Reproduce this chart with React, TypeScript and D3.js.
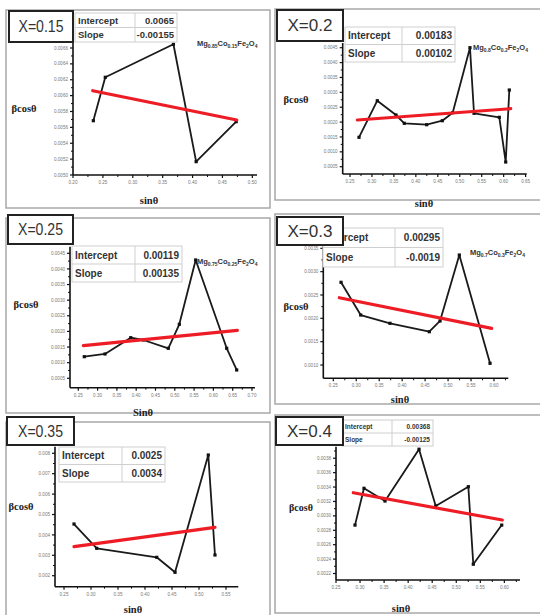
import React from 'react';
import * as d3 from 'd3';

// ---------- data ----------
const panelLabels = ['X=0.15', 'X=0.2', 'X=0.25', 'X=0.3', 'X=0.35', 'X=0.4'];
const interceptText = ['0.0065', '0.00183', '0.00119', '0.00295', '0.0025', '0.00368'];
const slopeText = ['-0.00155', '0.00102', '0.00135', '-0.0019', '0.0034', '-0.00125'];
const formulaParts: (string[] | null)[] = [
  ['Mg', '0.85', 'Co', '0.15', 'Fe', '2', 'O', '4'],
  ['Mg', '0.8', 'Co', '0.2', 'Fe', '2', 'O', '4'],
  ['Mg', '0.75', 'Co', '0.25', 'Fe', '2', 'O', '4'],
  ['Mg', '0.7', 'Co', '0.3', 'Fe', '2', 'O', '4'],
  null,
  null,
];
const xAxisTitles = ['sinθ', 'sinθ', 'Sinθ', 'sinθ', 'sinθ', 'sinθ'];

const sin015 = [0.234, 0.254, 0.368, 0.406, 0.473];
const bcos015 = [0.005684, 0.006231, 0.006647, 0.005168, 0.005672];
const fitX015 = [0.233, 0.474];
const fitY015 = [0.006062, 0.005693];
const xRange015 = [0.2, 0.5078];
const yRange015 = [0.005, 0.006663];
const xTicks015 = [0.2, 0.25, 0.3, 0.35, 0.4, 0.45, 0.5];
const yTicks015 = [0.005, 0.0052, 0.0054, 0.0056, 0.0058, 0.006, 0.0062, 0.0064, 0.0066];

const sin02 = [0.2705, 0.3122, 0.3548, 0.3737, 0.4247, 0.4603, 0.4839, 0.5233, 0.5325, 0.5901, 0.6047, 0.6129];
const bcos02 = [0.001488, 0.002718, 0.002238, 0.001959, 0.001912, 0.002046, 0.002315, 0.0045, 0.002295, 0.002161, 0.000658, 0.003078];
const fitX02 = [0.2666, 0.6161];
const fitY02 = [0.00207, 0.00245];
const xRange02 = [0.2334, 0.6525];
const yRange02 = [0.000255, 0.004658];
const xTicks02 = [0.25, 0.3, 0.35, 0.4, 0.45, 0.5, 0.55, 0.6, 0.65];
const yTicks02 = [0.0005, 0.001, 0.0015, 0.002, 0.0025, 0.003, 0.0035, 0.004, 0.0045];

const sin025 = [0.2655, 0.3192, 0.3858, 0.4184, 0.4832, 0.5117, 0.5541, 0.6345, 0.6604];
const bcos025 = [0.001191, 0.001278, 0.001799, 0.001726, 0.00146, 0.002228, 0.004286, 0.00146, 0.000766];
const fitX025 = [0.263, 0.662];
const fitY025 = [0.001543, 0.002036];
const xRange025 = [0.2285, 0.7078];
const yRange025 = [0.000199, 0.004711];
const xTicks025 = [0.25, 0.3, 0.35, 0.4, 0.45, 0.5, 0.55, 0.6, 0.65, 0.7];
const yTicks025 = [0.0005, 0.001, 0.0015, 0.002, 0.0025, 0.003, 0.0035, 0.004, 0.0045];

const sin03 = [0.2668, 0.3097, 0.3735, 0.4591, 0.4825, 0.5245, 0.5914];
const bcos03 = [0.002772, 0.002071, 0.001893, 0.001713, 0.001943, 0.003356, 0.001036];
const fitX03 = [0.2631, 0.5951];
const fitY03 = [0.002442, 0.001786];
const xRange03 = [0.2282, 0.6312];
const yRange03 = [0.000715, 0.003571];
const xTicks03 = [0.25, 0.3, 0.35, 0.4, 0.45, 0.5, 0.55, 0.6];
const yTicks03 = [0.001, 0.0015, 0.002, 0.0025, 0.003, 0.0035];

const sin035 = [0.2685, 0.3106, 0.4217, 0.4556, 0.5172, 0.5296];
const bcos035 = [0.004534, 0.003343, 0.002902, 0.002167, 0.007917, 0.003015];
const fitX035 = [0.2685, 0.5296];
const fitY035 = [0.003422, 0.004373];
const xRange035 = [0.2333, 0.5728];
const yRange035 = [0.001461, 0.008324];
const xTicks035 = [0.25, 0.3, 0.35, 0.4, 0.45, 0.5, 0.55];
const yTicks035 = [0.002, 0.003, 0.004, 0.005, 0.006, 0.007, 0.008];

const sin04 = [0.2895, 0.3082, 0.3519, 0.4226, 0.4573, 0.5251, 0.5354, 0.5945];
const bcos04 = [0.002872, 0.003383, 0.003206, 0.003925, 0.003136, 0.003405, 0.002329, 0.002872];
const fitX04 = [0.286, 0.5957];
const fitY04 = [0.003321, 0.002942];
const xRange04 = [0.25, 0.6325];
const yRange04 = [0.00211, 0.00396];
const xTicks04 = [0.25, 0.3, 0.35, 0.4, 0.45, 0.5, 0.55, 0.6];
const yTicks04 = [0.0022, 0.0024, 0.0026, 0.0028, 0.003, 0.0032, 0.0034, 0.0036, 0.0038];

const yDecimals = [4, 4, 4, 4, 3, 4];

const series = [
  { xs: sin015, ys: bcos015, fx: fitX015, fy: fitY015, xr: xRange015, yr: yRange015, xt: xTicks015, yt: yTicks015 },
  { xs: sin02, ys: bcos02, fx: fitX02, fy: fitY02, xr: xRange02, yr: yRange02, xt: xTicks02, yt: yTicks02 },
  { xs: sin025, ys: bcos025, fx: fitX025, fy: fitY025, xr: xRange025, yr: yRange025, xt: xTicks025, yt: yTicks025 },
  { xs: sin03, ys: bcos03, fx: fitX03, fy: fitY03, xr: xRange03, yr: yRange03, xt: xTicks03, yt: yTicks03 },
  { xs: sin035, ys: bcos035, fx: fitX035, fy: fitY035, xr: xRange035, yr: yRange035, xt: xTicks035, yt: yTicks035 },
  { xs: sin04, ys: bcos04, fx: fitX04, fy: fitY04, xr: xRange04, yr: yRange04, xt: xTicks04, yt: yTicks04 },
];

// ---------- layout (pixels) ----------
type Layout = {
  frame: number[]; box: number[]; table: number[]; split: number; tFont: number;
  plot: number[]; formula: number[]; ylab: number[]; xlab: number[];
};
const layouts: Layout[] = [
  { frame: [6, 10, 270, 208], box: [9, 11, 73, 42], table: [75, 13, 177, 42], split: 135, tFont: 9.5, plot: [73, 257, 43, 175], formula: [197, 46], ylab: [24, 112], xlab: [149, 204] },
  { frame: [275, 9, 545, 200], box: [277, 10, 343, 41], table: [345, 27, 455, 62], split: 402, tFont: 10, plot: [342.7, 526.7, 43, 174], formula: [473, 50], ylab: [296, 103], xlab: [424, 207] },
  { frame: [6, 218, 270, 413], box: [8, 215, 73, 244], table: [72, 246, 182, 282], split: 135, tFont: 10, plot: [70, 255, 246.7, 387.7], formula: [197, 264], ylab: [26, 308], xlab: [143, 416] },
  { frame: [275, 214, 545, 404], box: [277, 217, 343, 245], table: [323, 228, 443, 267], split: 395, tFont: 10, plot: [323.3, 508.3, 245, 378.3], formula: [470, 255], ylab: [296, 310], xlab: [400, 403] },
  { frame: [6, 422, 270, 625], box: [7, 417, 74, 445], table: [59, 447, 165, 482], split: 122, tFont: 10, plot: [55, 238.3, 446.7, 586.7], formula: [0, 0], ylab: [21, 510], xlab: [133, 613] },
  { frame: [275, 415, 545, 613], box: [276, 417, 343, 445], table: [342, 420, 433, 446], split: 392, tFont: 6.5, plot: [336, 520, 446.7, 580], formula: [0, 0], ylab: [301, 510.5], xlab: [401, 612] },
];

const SERIF = '"Liberation Serif", "DejaVu Serif", serif';
const SANS = '"Liberation Sans", Arial, sans-serif';

function Panel({ i }: { i: number }) {
  const L = layouts[i];
  const D = series[i];
  const [pl, pr, pt, pb] = L.plot;
  const x = d3.scaleLinear().domain(D.xr).range([pl, pr]);
  const y = d3.scaleLinear().domain(D.yr).range([pb, pt]);
  const pts: [number, number][] = D.xs.map((v, k) => [v, D.ys[k]]);
  const fit: [number, number][] = D.fx.map((v, k) => [v, D.fy[k]]);
  const line = d3.line<[number, number]>().x(d => x(d[0])).y(d => y(d[1]));

  const xStep = D.xt[1] - D.xt[0];
  const yStep = D.yt[1] - D.yt[0];
  const xMinor = D.xt.map(v => v + xStep / 2).filter(v => v < D.xr[1]);
  const yMinor = D.yt.map(v => v + yStep / 2).filter(v => v < D.yr[1]);
  const fmtY = d3.format(`.${yDecimals[i]}f`);
  const fmtX = d3.format('.2f');

  const [fx0, fy0, fx1, fy1] = L.frame;
  const [bx0, by0, bx1, by1] = L.box;
  const [tx0, ty0, tx1, ty1] = L.table;
  const tmid = (ty0 + ty1) / 2;
  const f = L.formula;
  const parts = formulaParts[i];
  const yLabFont = i === 5 ? 10 : 10.5;

  return (
    <g>
      <rect x={fx0} y={fy0} width={fx1 - fx0} height={fy1 - fy0} fill="none" stroke="#a8a8a8" strokeWidth={1.5} />
      {/* axes */}
      <line x1={pl} x2={pr} y1={pb} y2={pb} stroke="#111" strokeWidth={1.6} />
      <line x1={pl} x2={pl} y1={pt} y2={pb} stroke="#111" strokeWidth={1.6} />
      {D.xt.map(v => (
        <g key={'xt' + v}>
          <line x1={x(v)} x2={x(v)} y1={pb} y2={pb + 3} stroke="#111" strokeWidth={1.2} />
          <text x={x(v)} y={pb + 9} fontSize={4.6} fill="#777" textAnchor="middle" fontFamily={SANS}>{fmtX(v)}</text>
        </g>
      ))}
      {xMinor.map(v => (
        <line key={'xm' + v} x1={x(v)} x2={x(v)} y1={pb} y2={pb + 2} stroke="#111" strokeWidth={1} />
      ))}
      {D.yt.map(v => (
        <g key={'yt' + v}>
          <line x1={pl - 3} x2={pl} y1={y(v)} y2={y(v)} stroke="#111" strokeWidth={1.2} />
          <text x={pl - 5} y={y(v) + 1.6} fontSize={4.6} fill="#777" textAnchor="end" fontFamily={SANS}>{fmtY(v)}</text>
        </g>
      ))}
      {yMinor.map(v => (
        <line key={'ym' + v} x1={pl - 2} x2={pl} y1={y(v)} y2={y(v)} stroke="#111" strokeWidth={1} />
      ))}
      {/* data */}
      <path d={line(pts) || ''} fill="none" stroke="#1a1a1a" strokeWidth={1.8} strokeLinejoin="round" />
      {pts.map((p, k) => (
        <rect key={'m' + k} x={x(p[0]) - 1.6} y={y(p[1]) - 1.6} width={3.2} height={3.2} fill="#111" />
      ))}
      <path d={line(fit) || ''} fill="none" stroke="#ee1c25" strokeWidth={3.2} strokeLinecap="round" />
      {/* table */}
      <rect x={tx0} y={ty0} width={tx1 - tx0} height={ty1 - ty0} fill="#fff" stroke="#cfcfcf" strokeWidth={1} />
      <line x1={tx0} x2={tx1} y1={tmid} y2={tmid} stroke="#cfcfcf" strokeWidth={1} />
      <line x1={L.split} x2={L.split} y1={ty0} y2={ty1} stroke="#cfcfcf" strokeWidth={1} />
      <text x={tx0 + 3} y={(ty0 + tmid) / 2 + L.tFont * 0.36} fontSize={L.tFont} fontWeight="bold" fill="#333" fontFamily={SANS}>Intercept</text>
      <text x={tx0 + 3} y={(tmid + ty1) / 2 + L.tFont * 0.36} fontSize={L.tFont} fontWeight="bold" fill="#333" fontFamily={SANS}>Slope</text>
      <text x={tx1 - 3} y={(ty0 + tmid) / 2 + L.tFont * 0.36} fontSize={L.tFont} fontWeight="bold" fill="#333" textAnchor="end" fontFamily={SANS}>{interceptText[i]}</text>
      <text x={tx1 - 3} y={(tmid + ty1) / 2 + L.tFont * 0.36} fontSize={L.tFont} fontWeight="bold" fill="#333" textAnchor="end" fontFamily={SANS}>{slopeText[i]}</text>
      {/* X label box */}
      <rect x={bx0} y={by0} width={bx1 - bx0} height={by1 - by0} fill="#fff" stroke="#222" strokeWidth={2} />
      <text x={(bx0 + bx1) / 2} y={(by0 + by1) / 2 + 5.5} fontSize={16} fill="#333" textAnchor="middle" fontFamily={SANS} textLength={45} lengthAdjust="spacingAndGlyphs">{panelLabels[i]}</text>
      {/* formula */}
      {parts && (
        <text x={f[0]} y={f[1]} fontSize={7.5} fill="#333" fontFamily={SANS} fontWeight="bold">
          {parts.map((s, k) => (
            <tspan key={k} fontSize={k % 2 === 1 ? 5 : 7.5} dy={k % 2 === 1 ? 2 : (k === 0 ? 0 : -2)}>{s}</tspan>
          ))}
        </text>
      )}
      {/* axis titles */}
      <text x={L.ylab[0]} y={L.ylab[1]} fontSize={yLabFont} fontWeight="bold" fill="#222" textAnchor="middle" fontFamily={SERIF}>βcosθ</text>
      <text x={L.xlab[0]} y={L.xlab[1]} fontSize={10.5} fontWeight="bold" fill="#222" textAnchor="middle" fontFamily={SERIF}>{xAxisTitles[i]}</text>
    </g>
  );
}

export default function App() {
  return (
    <svg width={540} height={615} style={{ position: 'absolute', left: 0, top: 0, background: '#fff' }}>
      <rect x={0} y={0} width={540} height={615} fill="#fff" />
      {layouts.map((_, i) => <Panel key={i} i={i} />)}
    </svg>
  );
}
